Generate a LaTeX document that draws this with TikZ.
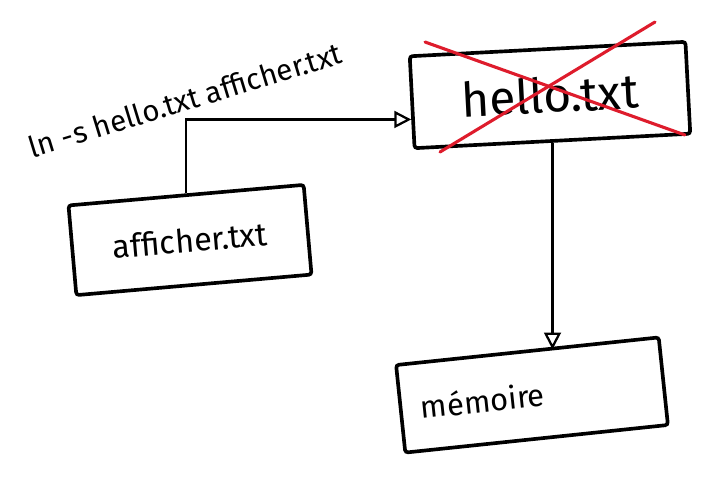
\documentclass[tikz,border=0pt]{standalone}
\usepackage{fontspec}
\setmainfont{Fira Sans}
\usetikzlibrary{arrows.meta}
\definecolor{rouge}{RGB}{222,28,44}
\tikzset{
	boite/.style={draw, line width=2.6pt, rounded corners=2pt, inner sep=0pt},
	lien/.style={line width=1.6pt, -{Triangle[open,length=12pt,width=12pt]}},
	croix/.style={draw=rouge, line width=2.2pt, line cap=round}
}

\begin{document}
\begin{tikzpicture}[x=0.025cm, y=-0.025cm]
	\useasboundingbox (0,0) rectangle (717,483);
	\node[rotate=17, font=\fontsize{21}{23}\selectfont] (commande) at (185,100) {ln -s hello.txt afficher.txt};
	\node[boite, minimum width=6.9cm, minimum height=2.3cm, rotate=3, font=\fontsize{34}{36}\selectfont] (hello) at (550,95) {hello.txt};
	\node[boite, minimum width=5.9cm, minimum height=2.25cm, rotate=5, font=\fontsize{23}{25}\selectfont] (afficher) at (190,240) {afficher.txt};
	\node[boite, minimum height=2.2cm, text width=5.6cm, inner xsep=0.5cm, align=left, rotate=6, font=\fontsize{22}{24}\selectfont] (memoire) at (532,395) {mémoire};
	% lien symbolique
	\draw[lien] (afficher.north) |- (hello.187);
	\draw[lien] (hello.south) -- (hello.south |- memoire.north);
	% fichier supprime
	\draw[croix] (425,42) -- (685,135);
	\draw[croix] (440,152) -- (655,22);
\end{tikzpicture}
\end{document}
